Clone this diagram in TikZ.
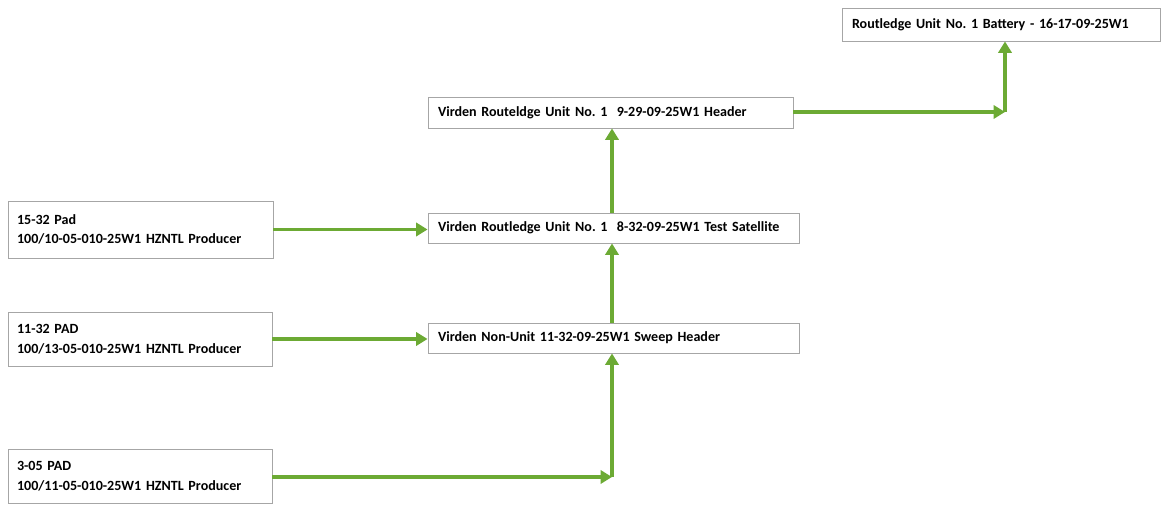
\documentclass[tikz,border=0pt]{standalone}
\usepackage{fontspec}
\setmainfont{Carlito}
\usepackage{tikz}
\usetikzlibrary{positioning,arrows.meta}
\definecolor{flowgreen}{RGB}{108,170,52}
\frenchspacing
\begin{document}
\begin{tikzpicture}[x=1cm,y=1cm,
  box/.style={draw=gray!70,line width=0.5pt,inner sep=0pt,align=left,font=\fontsize{8}{11.2}\selectfont\bfseries},
  flow/.style={draw=flowgreen,line width=2pt,-{Triangle[length=6.5pt,width=7.5pt]}}]
\useasboundingbox (0,0) rectangle (23.24,10.2);
\node[box,minimum width=6.36cm,minimum height=0.66cm,text width=5.96cm] (battery) at (20.02,9.71) {Routledge Unit No. 1 Battery - 16-17-09-25W1};
\node[box,minimum width=7.30cm,minimum height=0.62cm,text width=6.90cm] (header) at (12.21,7.95) {Virden Routeldge Unit No. 1\ \ 9-29-09-25W1 Header};
\node[box,minimum width=7.42cm,minimum height=0.60cm,text width=7.02cm] (satellite) at (12.27,5.64) {Virden Routledge Unit No. 1\ \ 8-32-09-25W1 Test Satellite};
\node[box,minimum width=7.42cm,minimum height=0.60cm,text width=7.02cm] (sweep) at (12.27,3.44) {Virden Non-Unit 11-32-09-25W1 Sweep Header};
\node[box,minimum width=5.30cm,minimum height=1.14cm,text width=4.94cm] (pad1) at (2.81,5.61) {15-32 Pad\\100/10-05-010-25W1 HZNTL Producer};
\node[box,minimum width=5.28cm,minimum height=1.08cm,text width=4.92cm] (pad2) at (2.80,3.42) {11-32 PAD\\100/13-05-010-25W1 HZNTL Producer};
\node[box,minimum width=5.28cm,minimum height=1.08cm,text width=4.92cm] (pad3) at (2.80,0.68) {3-05 PAD\\100/11-05-010-25W1 HZNTL Producer};
\coordinate (bend1) at (12.24,0.66);
\coordinate (bend2) at (20.10,7.96);
\draw[flow] (pad1.east) -- (pad1.east -| satellite.west);
\draw[flow] (pad2.east) -- (pad2.east -| sweep.west);
\draw[flow] (pad3.east |- bend1) -- (bend1);
\draw[flow] (bend1) -- (bend1 |- sweep.south);
\draw[flow] (bend1 |- sweep.north) -- (bend1 |- satellite.south);
\draw[flow] (bend1 |- satellite.north) -- (bend1 |- header.south);
\draw[flow] (header.east |- bend2) -- (bend2);
\draw[flow] (bend2) -- (bend2 |- battery.south);
\end{tikzpicture}
\end{document}
